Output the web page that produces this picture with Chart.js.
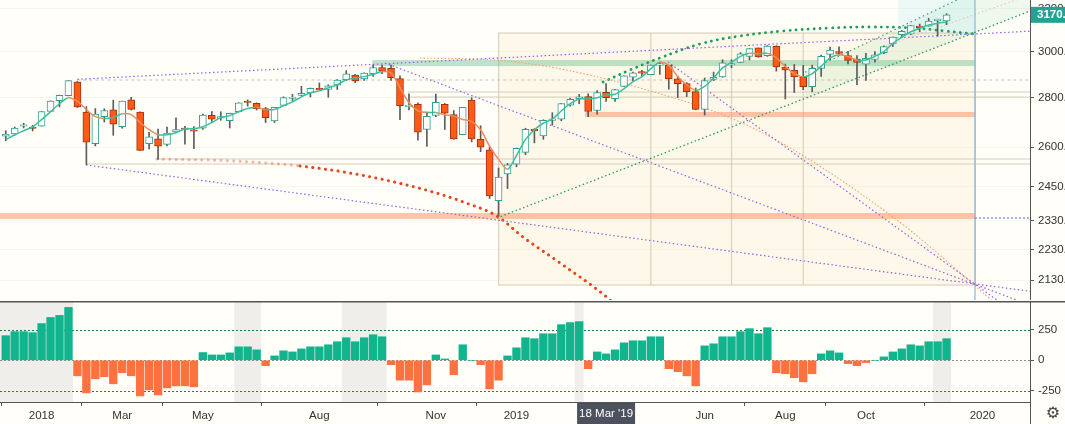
<!DOCTYPE html>
<html>
<head>
<meta charset="utf-8">
<script src="https://cdn.jsdelivr.net/npm/chart.js@4.4.1/dist/chart.umd.min.js"></script>
<style>
  html, body { margin: 0; padding: 0; background: #fffef9; overflow: hidden; }
  #wrap { position: relative; width: 1065px; height: 424px; }
  #price { position: absolute; left: 0; top: 0; }
  #osc { position: absolute; left: 0; top: 301px; }
</style>
</head>
<body>
<div id="wrap">
  <canvas id="price" width="1065" height="300"></canvas>
  <canvas id="osc" width="1065" height="123"></canvas>
</div>
<script>
// weekly candles, position 0 = week of 1 Jan 2018
const firstWeek = -4;
const open = [
  2643, 2652, 2683, 2680, 2683, 2743, 2788, 2809, 2867, 2741,
  2614, 2722, 2750, 2681, 2791, 2741, 2614, 2633, 2611, 2660,
  2675, 2668, 2675, 2727, 2716, 2705, 2742, 2781, 2777, 2755,
  2704, 2768, 2797, 2810, 2820, 2840, 2835, 2853, 2877, 2897,
  2880, 2903, 2930, 2926, 2882, 2763, 2773, 2670, 2727, 2773,
  2730, 2649, 2790, 2631, 2590, 2400, 2498, 2535, 2580, 2670,
  2644, 2707, 2712, 2769, 2796, 2805, 2747, 2823, 2796, 2848,
  2888, 2909, 2898, 2940, 2940, 2881, 2860, 2826, 2752, 2878,
  2889, 2941, 2952, 2979, 3017, 2982, 3024, 2932, 2919, 2889,
  2847, 2926, 2988, 3001, 2983, 2967, 2944, 2965, 2996, 3035,
  3078, 3080, 3117, 3117, 3143, 3141
];
const high = [
  2665, 2680, 2695, 2687, 2743, 2787, 2811, 2873, 2870, 2763,
  2755, 2754, 2790, 2786, 2802, 2742, 2659, 2672, 2680, 2717,
  2683, 2682, 2732, 2743, 2742, 2736, 2779, 2791, 2779, 2760,
  2760, 2804, 2814, 2848, 2841, 2863, 2855, 2877, 2916, 2900,
  2906, 2940, 2940, 2940, 2894, 2816, 2779, 2741, 2815, 2776,
  2747, 2760, 2800, 2685, 2601, 2520, 2538, 2597, 2675, 2673,
  2709, 2738, 2776, 2798, 2814, 2816, 2830, 2860, 2836, 2893,
  2910, 2917, 2940, 2954, 2940, 2892, 2864, 2841, 2884, 2910,
  2964, 2964, 2996, 3014, 3017, 3028, 3027, 2945, 2943, 2939,
  2940, 2985, 3021, 3022, 3002, 2983, 2993, 3000, 3027, 3067,
  3097, 3120, 3127, 3154, 3150, 3176
];
const low = [
  2625, 2647, 2676, 2664, 2683, 2742, 2762, 2808, 2759, 2533,
  2605, 2700, 2647, 2675, 2749, 2587, 2593, 2553, 2605, 2660,
  2612, 2594, 2670, 2702, 2707, 2676, 2741, 2765, 2749, 2698,
  2698, 2766, 2788, 2808, 2803, 2833, 2802, 2835, 2873, 2864,
  2874, 2891, 2903, 2874, 2710, 2749, 2628, 2603, 2722, 2670,
  2631, 2649, 2621, 2583, 2408, 2347, 2444, 2525, 2571, 2617,
  2631, 2687, 2705, 2765, 2775, 2722, 2732, 2785, 2785, 2848,
  2873, 2892, 2898, 2900, 2836, 2801, 2805, 2750, 2728, 2873,
  2887, 2929, 2952, 2963, 2975, 2979, 2914, 2795, 2822, 2834,
  2825, 2891, 2964, 2985, 2946, 2855, 2874, 2953, 2991, 3023,
  3066, 3077, 3091, 3117, 3070, 3124
];
const close = [
  2652, 2676, 2684, 2674, 2743, 2786, 2810, 2873, 2762, 2620,
  2732, 2747, 2691, 2786, 2752, 2588, 2641, 2604, 2656, 2670,
  2670, 2663, 2728, 2712, 2721, 2735, 2779, 2780, 2755, 2718,
  2760, 2801, 2802, 2819, 2840, 2833, 2850, 2875, 2902, 2872,
  2905, 2930, 2914, 2886, 2767, 2768, 2659, 2723, 2781, 2736,
  2633, 2760, 2633, 2600, 2417, 2486, 2532, 2596, 2671, 2665,
  2707, 2708, 2776, 2793, 2804, 2743, 2822, 2800, 2834, 2893,
  2907, 2905, 2940, 2946, 2881, 2860, 2826, 2752, 2873, 2887,
  2950, 2942, 2990, 3014, 2977, 3025, 2932, 2919, 2889, 2847,
  2926, 2979, 3007, 2992, 2961, 2952, 2970, 2986, 3023, 3067,
  3093, 3120, 3110, 3141, 3146, 3170.4
];
// smoothed average drawn over the candles
const ma = [
  2630, 2649, 2665, 2681, 2710, 2742, 2775, 2800, 2785, 2751,
  2722, 2714, 2718, 2734, 2730, 2698, 2669, 2649, 2649, 2657,
  2673, 2673, 2681, 2698, 2718, 2726, 2742, 2755, 2759, 2751,
  2751, 2767, 2783, 2804, 2821, 2829, 2842, 2855, 2876, 2884,
  2890, 2900, 2912, 2906, 2842, 2779, 2746, 2739, 2739, 2730,
  2724, 2710, 2703, 2669, 2604, 2553, 2516, 2568, 2630, 2669,
  2695, 2712, 2745, 2775, 2795, 2795, 2800, 2812, 2815, 2838,
  2868, 2890, 2925, 2953, 2939, 2890, 2855, 2831, 2848, 2884,
  2928, 2953, 2979, 2993, 2990, 2993, 2972, 2935, 2903, 2889,
  2903, 2935, 2972, 2986, 2979, 2963, 2963, 2979, 3000, 3038,
  3065, 3091, 3107, 3122, 3130, 3137
];
// lower pane histogram
const osc = [
  203, 236, 236, 228, 303, 353, 370, 436, -128, -269,
  -153, -136, -194, -103, -128, -294, -244, -286, -228, -211,
  -211, -219, 64, 44, 44, 61, 111, 111, 86, -44,
  36, 78, 69, 94, 111, 111, 128, 153, 186, 153,
  186, 211, 194, -36, -164, -164, -261, -203, 44, 11,
  -119, 128, 0, -36, -236, -164, 36, 103, 186, 178,
  219, 219, 294, 311, 319, -69, 69, 53, 86, 144,
  161, 161, 194, 194, -69, -94, -128, -211, 119, 136,
  194, 194, 236, 261, 219, 269, -103, -111, -144, -178,
  -111, 53, 78, 61, -28, -44, -19, 0, 28, 69,
  94, 128, 119, 153, 153, 178
];

const priceTicks = [2130, 2230, 2330, 2450, 2600, 2800, 3000, 3200];
const oscTicks = [-250, 0, 250];
const oscLevels = [250, 0, -250];
const oscShade = [[-5, 3.5], [21.5, 24.5], [33.5, 38.5], [59.5, 60.5], [99.5, 101.5]];
const xTicks = [[0, '2018'], [9, 'Mar'], [18, 'May'], [31, 'Aug'], [44, 'Nov'],
                [53, '2019'], [74, 'Jun'], [83, 'Aug'], [92, 'Oct'], [105, '2020']];
const crossWeek = 63, crossLabel = "18 Mar '19";

// drawings, in [week, price]
const fanLines = [
  [[3.98, 2878.5], [110.31, 3093.6]],
  [[4.96, 2531.7], [110.31, 2095.2]],
  [[38.33, 2949.6], [110.31, 2052.6]],
  [[69.91, 2954.1], [110.31, 1995.1]]
];
const channelLines = [
  [[50.82, 2338.4], [110.31, 3188.6]],
  [[85.2, 2908.8], [104.17, 3283.6]]
];
const faintLine = [[93.57, 3016.7], [110.31, 3265.9]];
const arcOrange = [[42.23, 2971.8], [51.94, 2958.5], [66.79, 2841.2], [79.84, 2667.9],
                   [95.02, 2341.9], [103.95, 2118.3], [106.96, 2043.4]];
const curveRed = [[12.88, 2554.5], [21.36, 2546.9], [28.84, 2527.9], [36.21, 2490.3],
                  [43.68, 2431.3], [47.37, 2391.6], [50.82, 2345.4], [53.73, 2272.8],
                  [57.86, 2186.0], [63.44, 2068.1], [65.1, 2022.2]];
const arcGreen = [[62.66, 2866.8], [65.67, 2918.9], [69.0, 2971.8], [73.48, 3034.8],
                  [77.95, 3071.4], [82.75, 3094.5], [87.99, 3108.4], [92.46, 3113.1],
                  [97.25, 3108.4], [100.8, 3094.5], [104.17, 3080.6]];
const fibBox = [51, 104.2, 2115, 3085];
const fibBoxDividers = [68, 77, 85];
const zoneBands = [[36.9, 104.2, 2936, 2963], [60.65, 104.2, 2720, 2741], [-5, 104.2, 2335, 2356]];
const levelLines = [[3.98, 2875.5], [40.9, 2824], [40.9, 2803], [12.9, 2554.5], [4.96, 2535.4]];
const channelFill = [[85.2, 2908.8], [102.14, 3241.6], [110.31, 3241.6], [110.31, 3188.6], [85.2, 2796.9]];
const channelTop = [[95.6, 3241.6], [104.17, 3241.6], [104.17, 3080.6], [97.25, 3108.4], [95.6, 3111]];
const cursorWeek = 104.17, cursorPrice = 2338.4;

const xMin = -4.64, xMax = 110.31;
const yMin = 2068.1, yMax = 3241.6;

const upCol = '#2f9f94', downCol = '#ff5a16', downEdge = '#a5330e';
const maUp = '#3dbf9f', maDown = '#f28a5c';
const bandColors = ['rgba(110,195,145,0.45)', 'rgba(249,150,110,0.55)', 'rgba(249,150,110,0.55)'];
const levelColors = ['#c7c0b5', '#d6cdb9', '#d6cdb9', '#d6cdb9', '#d6cdb9'];
const oscLevelColors = ['#1f7a38', '#8d8d8d', '#d62b2b'];

Chart.defaults.font.family = "'Liberation Sans', Arial, sans-serif";
Chart.defaults.font.size = 11.5;
Chart.defaults.color = '#333';

const weeks = open.map((_, i) => i + firstWeek);
const bodies = weeks.map((x, i) => ({ x, y: [open[i], close[i]] }));
const wicks = weeks.map((x, i) => ({ x, y: [low[i], high[i]] }));
const maLine = weeks.map((x, i) => ({ x, y: ma[i] }));
const oscBars = weeks.map((x, i) => ({ x, y: osc[i] }));
const toPts = arr => arr.map(p => ({ x: p[0], y: p[1] }));

function dotted(points, color, dash, width, extra) {
  return Object.assign({
    type: 'line', data: toPts(points), borderColor: color, borderWidth: width,
    borderDash: dash, pointRadius: 0, fill: false, order: 10
  }, extra || {});
}

const drawings = {
  id: 'drawings',
  beforeDatasetsDraw(chart) {
    const { ctx, chartArea: a, scales: { x, y } } = chart;
    const X = v => x.getPixelForValue(v), Y = v => y.getPixelForValue(v);
    ctx.save();
    ctx.beginPath(); ctx.rect(a.left, a.top, a.width, a.height); ctx.clip();

    // time zone box
    const [b0, b1, bLo, bHi] = fibBox;
    ctx.fillStyle = 'rgba(245,226,170,0.2)';
    ctx.fillRect(X(b0), Y(bHi), X(b1) - X(b0), Y(bLo) - Y(bHi));
    ctx.strokeStyle = '#dad1bf'; ctx.lineWidth = 1.2;
    ctx.strokeRect(X(b0), Y(bHi), X(b1) - X(b0), Y(bLo) - Y(bHi));
    fibBoxDividers.forEach(d => {
      ctx.beginPath(); ctx.moveTo(X(d), Y(bHi)); ctx.lineTo(X(d), Y(bLo)); ctx.stroke();
    });

    const poly = (pts, fill) => {
      ctx.beginPath();
      pts.forEach((p, i) => i ? ctx.lineTo(X(p[0]), Y(p[1])) : ctx.moveTo(X(p[0]), Y(p[1])));
      ctx.closePath(); ctx.fillStyle = fill; ctx.fill();
    };
    poly(channelFill, 'rgba(120,205,160,0.12)');
    poly(channelTop, 'rgba(175,232,242,0.22)');

    zoneBands.forEach(([f, t, lo, hi], i) => {
      ctx.fillStyle = bandColors[i];
      ctx.fillRect(X(f), Y(hi), X(t) - X(f), Y(lo) - Y(hi));
    });

    levelLines.forEach(([f, p], i) => {
      ctx.strokeStyle = levelColors[i]; ctx.lineWidth = 1;
      ctx.setLineDash(i === 0 ? [3, 3] : []);
      ctx.beginPath(); ctx.moveTo(X(f), Y(p)); ctx.lineTo(a.right, Y(p)); ctx.stroke();
    });

    ctx.setLineDash([]);
    ctx.strokeStyle = '#86b5dd'; ctx.lineWidth = 1.2;
    ctx.beginPath(); ctx.moveTo(X(cursorWeek), a.top); ctx.lineTo(X(cursorWeek), a.bottom); ctx.stroke();
    ctx.setLineDash([2, 2]); ctx.strokeStyle = '#3d7bd0'; ctx.lineWidth = 1;
    ctx.beginPath(); ctx.moveTo(X(cursorWeek), Y(cursorPrice)); ctx.lineTo(a.right, Y(cursorPrice)); ctx.stroke();
    ctx.restore();
  },
  afterDraw(chart) {
    const { ctx, chartArea: a, scales: { y } } = chart;
    const last = close[close.length - 1];
    const py = y.getPixelForValue(last);
    ctx.save();
    ctx.fillStyle = '#22a394';
    ctx.fillRect(a.right + 1, py - 8, 40, 16);
    ctx.fillStyle = '#fff';
    ctx.font = "bold 11.5px 'Liberation Sans', Arial, sans-serif";
    ctx.textBaseline = 'middle';
    ctx.fillText(last.toFixed(2), a.right + 7, py + 0.5);
    ctx.restore();
  }
};

new Chart(document.getElementById('price'), {
  type: 'bar',
  data: {
    datasets: [
      ...fanLines.map(l => dotted(l, '#9a5fe0', [1.5, 2.5], 1.2)),
      dotted(channelLines[0], '#2c9a5c', [1.5, 2.5], 1.3),
      dotted(channelLines[1], '#3aa572', [1.5, 3], 1.2),
      dotted(faintLine, 'rgba(240,150,140,0.6)', [1.5, 2.5], 1),
      dotted(arcOrange, '#f3a070', [1.5, 2], 1.1, { cubicInterpolationMode: 'monotone' }),
      dotted(curveRed, '#e5461c', [0.1, 6.3], 3, {
        borderCapStyle: 'round', cubicInterpolationMode: 'monotone',
        segment: { borderColor: c => c.p0.parsed.x < 26 ? 'rgba(229,80,40,0.4)' : '#e5461c' }
      }),
      dotted(arcGreen, '#1f9e58', [0.1, 6], 2.8, { borderCapStyle: 'round', tension: 0.4 }),
      {
        type: 'bar', data: wicks, barThickness: 1, grouped: false,
        backgroundColor: '#5c5c5c', order: 6
      },
      {
        type: 'bar', data: bodies, barThickness: 7, grouped: false,
        borderWidth: 1, borderSkipped: false, minBarLength: 1.5, order: 5,
        backgroundColor: c => close[c.dataIndex] >= open[c.dataIndex] ? '#fffef9' : downCol,
        borderColor: c => close[c.dataIndex] >= open[c.dataIndex] ? upCol : downEdge
      },
      {
        type: 'line', data: maLine, borderWidth: 1.5, pointRadius: 0, tension: 0.3, order: 1,
        segment: { borderColor: c => c.p1.parsed.y < c.p0.parsed.y ? maDown : maUp }
      }
    ]
  },
  options: {
    responsive: false, animation: false, events: [],
    layout: { padding: 0 },
    plugins: { legend: { display: false }, tooltip: { enabled: false } },
    scales: {
      x: { type: 'linear', display: false, min: xMin, max: xMax, offset: false },
      y: {
        type: 'logarithmic', position: 'right', min: yMin, max: yMax,
        afterFit(s) { s.width = 35; s.paddingTop = 0; s.paddingBottom = 0; },
        afterBuildTicks(s) { s.ticks = priceTicks.map(v => ({ value: v })); },
        ticks: { autoSkip: false, padding: 4, color: '#333', callback: v => Number(v).toFixed(2) },
        grid: { color: 'rgba(90,70,20,0.05)', tickLength: 4, tickColor: '#555' },
        border: { color: '#555' }
      }
    }
  },
  plugins: [drawings]
});

const oscDecor = {
  id: 'oscDecor',
  beforeDatasetsDraw(chart) {
    const { ctx, chartArea: a, scales: { x, y } } = chart;
    ctx.save();
    ctx.beginPath(); ctx.rect(a.left, a.top, a.width, a.height); ctx.clip();
    ctx.fillStyle = '#efeeea';
    oscShade.forEach(([f, t]) => {
      ctx.fillRect(x.getPixelForValue(f), a.top, x.getPixelForValue(t) - x.getPixelForValue(f), a.height);
    });
    ctx.setLineDash([2, 2]); ctx.lineWidth = 1;
    oscLevels.forEach((v, i) => {
      const py = Math.round(y.getPixelForValue(v)) + 0.5;
      ctx.strokeStyle = oscLevelColors[i];
      ctx.beginPath(); ctx.moveTo(a.left, py); ctx.lineTo(a.right, py); ctx.stroke();
    });
    ctx.restore();
  },
  afterDraw(chart) {
    const { ctx, chartArea: a, scales: { x } } = chart;
    ctx.save();
    ctx.fillStyle = '#555';
    ctx.fillRect(0, 0, chart.width, 1.5);
    ctx.fillRect(a.right, a.bottom, 1, chart.height - a.bottom);
    const cx = x.getPixelForValue(crossWeek);
    ctx.fillStyle = '#4c525d';
    ctx.fillRect(cx - 29, a.bottom + 1, 58, chart.height - a.bottom - 1);
    ctx.fillStyle = '#fff';
    ctx.font = "11.5px 'Liberation Sans', Arial, sans-serif";
    ctx.textAlign = 'center'; ctx.textBaseline = 'middle';
    ctx.fillText(crossLabel, cx, a.bottom + 12);
    ctx.fillStyle = '#444';
    ctx.font = "16px 'DejaVu Sans', sans-serif";
    ctx.fillText('\u2699', a.right + 23, a.bottom + 12);
    ctx.restore();
  }
};

const tickLabel = Object.fromEntries(xTicks);

new Chart(document.getElementById('osc'), {
  type: 'bar',
  data: {
    datasets: [{
      data: oscBars, barThickness: 7.7, grouped: false,
      backgroundColor: c => osc[c.dataIndex] >= 0 ? '#12b48d' : '#ff7140'
    }]
  },
  options: {
    responsive: false, animation: false, events: [],
    layout: { padding: 0 },
    plugins: { legend: { display: false }, tooltip: { enabled: false } },
    scales: {
      x: {
        type: 'linear', min: xMin, max: xMax, offset: false,
        afterFit(s) { s.height = 22; s.paddingLeft = 0; s.paddingRight = 0; },
        afterBuildTicks(s) { s.ticks = xTicks.map(t => ({ value: t[0] })); },
        ticks: { autoSkip: false, maxRotation: 0, padding: 3, color: '#333', callback: v => tickLabel[v] },
        grid: { drawOnChartArea: false, tickLength: 4, tickColor: '#555' },
        border: { color: '#555' }
      },
      y: {
        type: 'linear', position: 'right', min: -344, max: 489,
        afterFit(s) { s.width = 35; s.paddingTop = 0; s.paddingBottom = 0; },
        afterBuildTicks(s) { s.ticks = oscTicks.map(v => ({ value: v })); },
        ticks: { autoSkip: false, padding: 4, color: '#333' },
        grid: { drawOnChartArea: false, tickLength: 4, tickColor: '#555' },
        border: { color: '#555' }
      }
    }
  },
  plugins: [oscDecor]
});
</script>
</body>
</html>
